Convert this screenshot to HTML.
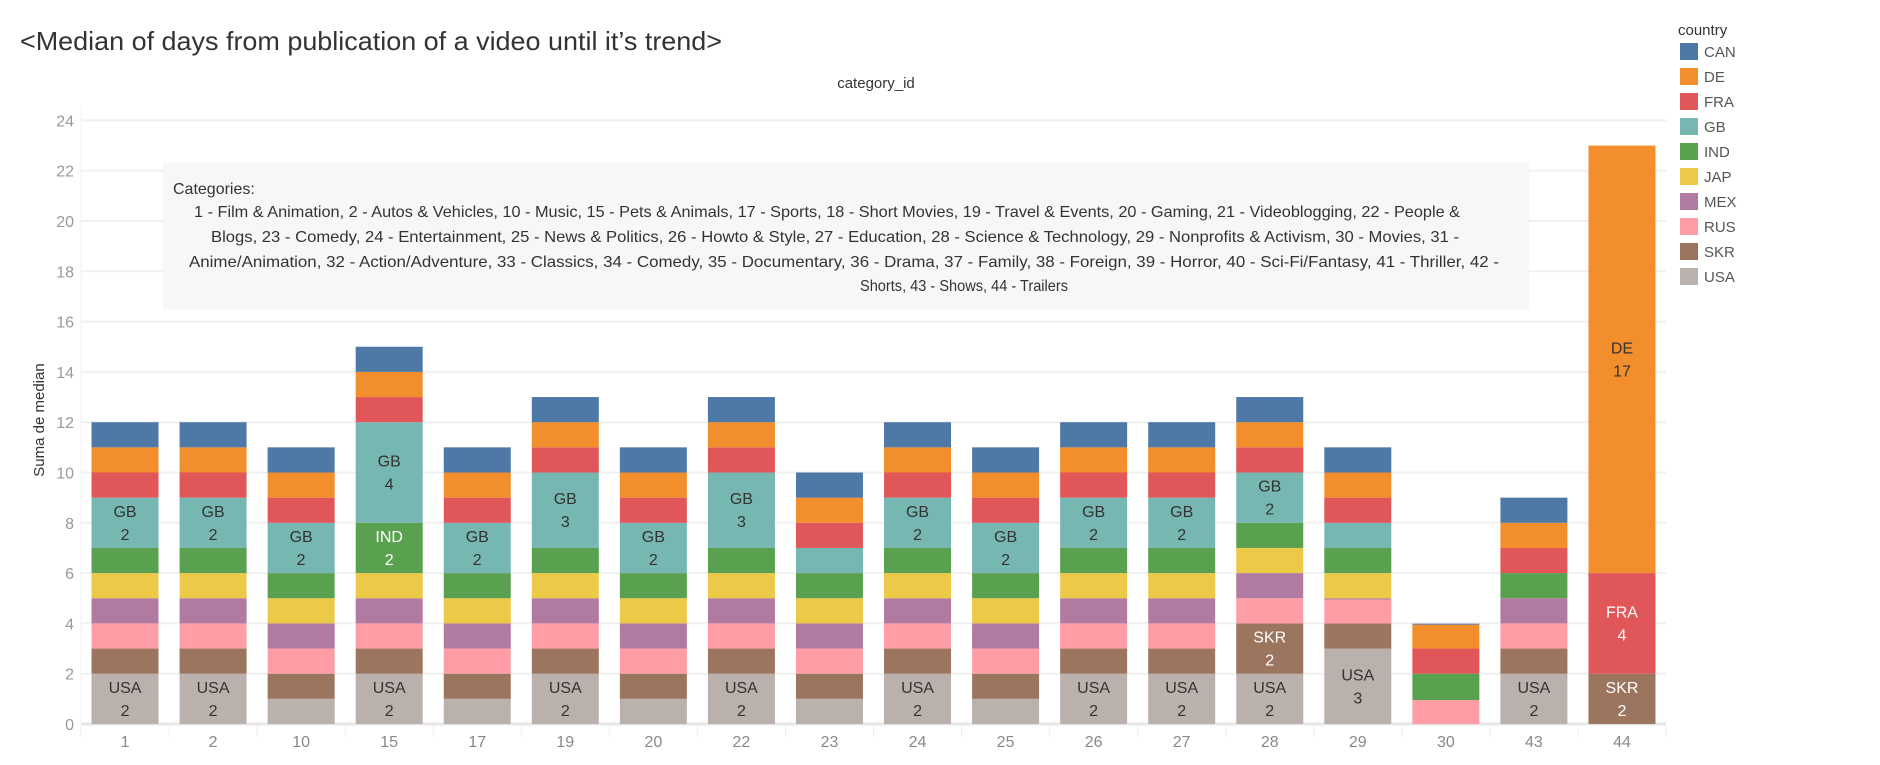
<!DOCTYPE html>
<html><head><meta charset="utf-8"><style>
html,body{margin:0;padding:0;background:#fff;}
svg{display:block;font-family:"Liberation Sans",sans-serif;}
</style></head><body>
<svg id="chart" width="1880" height="765" viewBox="0 0 1880 765">
<text x="20" y="50" font-size="26" fill="#333" textLength="702" lengthAdjust="spacingAndGlyphs">&lt;Median of days from publication of a video until it’s trend&gt;</text>
<text x="876" y="88" font-size="15" fill="#333" text-anchor="middle">category_id</text>
<g id="grid"></g>
<g id="bars"></g>
<g id="xaxis"></g>
<g id="yaxis"></g>
<text transform="translate(44,420) rotate(-90)" font-size="15" fill="#333" text-anchor="middle">Suma de median</text>
<g>
<rect x="163" y="163" width="1366" height="146" fill="#f7f7f7"/>
<text x="173" y="194" font-size="16" fill="#333">Categories:</text>
<text x="827" y="217" font-size="16" fill="#333" text-anchor="middle" textLength="1266" lengthAdjust="spacingAndGlyphs">1 -  Film &amp; Animation, 2 - Autos &amp; Vehicles, 10 - Music, 15 - Pets &amp; Animals, 17 - Sports, 18 - Short Movies, 19 - Travel &amp; Events, 20 - Gaming, 21 - Videoblogging, 22 - People &amp;</text>
<text x="835" y="242" font-size="16" fill="#333" text-anchor="middle" textLength="1248" lengthAdjust="spacingAndGlyphs">Blogs, 23 - Comedy, 24 - Entertainment, 25 - News &amp; Politics, 26 - Howto &amp; Style, 27 - Education, 28 - Science &amp; Technology, 29 - Nonprofits &amp; Activism, 30 - Movies, 31 -</text>
<text x="844" y="267" font-size="16" fill="#333" text-anchor="middle" textLength="1310" lengthAdjust="spacingAndGlyphs">Anime/Animation, 32 - Action/Adventure, 33 - Classics, 34 - Comedy, 35 - Documentary, 36 - Drama, 37 - Family, 38 - Foreign, 39 - Horror, 40 - Sci-Fi/Fantasy, 41 - Thriller, 42 -</text>
<text x="964" y="291" font-size="16" fill="#333" text-anchor="middle" textLength="208" lengthAdjust="spacingAndGlyphs">Shorts, 43 - Shows, 44 - Trailers</text>
</g>
<g id="legend">
<text x="1678" y="35" font-size="15" fill="#333">country</text>
</g>
</svg>
<script>
const categories = ["1","2","10","15","17","19","20","22","23","24","25","26","27","28","29","30","43","44"];
const countries = ["USA","SKR","RUS","MEX","JAP","IND","GB","FRA","DE","CAN"];
const colors = ["#bab0ac","#9c755f","#ff9da7","#b07aa1","#edc948","#59a14f","#76b7b2","#e15759","#f28e2b","#4e79a7"];
const darkText = [false,true,false,false,false,true,false,true,false,true];
const USA = [2,2,1,2,1,2,1,2,1,2,1,2,2,2,3,0,2,0];
const SKR = [1,1,1,1,1,1,1,1,1,1,1,1,1,2,1,0,1,2];
const RUS = [1,1,1,1,1,1,1,1,1,1,1,1,1,1,0.95,0.95,1,0];
const MEX = [1,1,1,1,1,1,1,1,1,1,1,1,1,1,0.05,0,1,0];
const JAP = [1,1,1,1,1,1,1,1,1,1,1,1,1,1,1,0,0,0];
const IND = [1,1,1,2,1,1,1,1,1,1,1,1,1,1,1,1.05,1,0];
const GB  = [2,2,2,4,2,3,2,3,1,2,2,2,2,2,1,0,0,0];
const FRA = [1,1,1,1,1,1,1,1,1,1,1,1,1,1,1,1,1,4];
const DE  = [1,1,1,1,1,1,1,1,1,1,1,1,1,1,1,0.95,1,17];
const CAN = [1,1,1,1,1,1,1,1,1,1,1,1,1,1,1,0.04,1,0];
const series = [USA,SKR,RUS,MEX,JAP,IND,GB,FRA,DE,CAN];
const yTicks = [0,2,4,6,8,10,12,14,16,18,20,22,24];
const legendOrder = ["CAN","DE","FRA","GB","IND","JAP","MEX","RUS","SKR","USA"];

const NS="http://www.w3.org/2000/svg";
const plotL=81, plotR=1666, y0=724, unit=25.15;
const band=(plotR-plotL)/categories.length, barW=67;
const yS=v=>y0-v*unit;
const xS=i=>plotL+i*band;
function mk(tag,attrs,parent){const e=document.createElementNS(NS,tag);for(const k in attrs)e.setAttribute(k,attrs[k]);parent.appendChild(e);return e;}

const grid=document.getElementById('grid');
yTicks.forEach(t=>{
  const l=mk('line',{x1:plotL,x2:plotR,y1:yS(t),y2:yS(t),stroke:t===0?'#e6e6e6':'#f0f0f0','stroke-width':t===0?3:2},grid);
  
  
});
const yax=document.getElementById('yaxis');
const yl=mk('line',{x1:plotL,x2:plotL,y1:105,y2:y0,stroke:'#f0f0f0','stroke-width':1},yax);


yTicks.forEach(t=>{
  const tx=mk('text',{x:74,y:yS(t)+6,'font-size':16,fill:'#999','text-anchor':'end'},yax);
  tx.textContent=t;
  
  
});

const bars=document.getElementById('bars');
const xax=document.getElementById('xaxis');
categories.forEach((c,i)=>{
  const bx=xS(i)+(band-barW)/2;
  let acc=0;
  series.forEach((s,k)=>{
    const v=s[i]; if(!v) return;
    const top=yS(acc+v), bot=yS(acc);
    const r=mk('rect',{x:bx,y:top,width:barW,height:bot-top,fill:colors[k]},bars);
    
    
    if(v>=2){
      const cy=(top+bot)/2, fill=darkText[k]?'#fff':'#333';
      const t1=mk('text',{x:bx+barW/2,y:cy-6,'font-size':16,fill:fill,'text-anchor':'middle'},bars);
      t1.textContent=countries[k];
      
      
      const t2=mk('text',{x:bx+barW/2,y:cy+17,'font-size':16,fill:fill,'text-anchor':'middle'},bars);
      t2.textContent=v;
      
      
    }
    acc+=v;
  });
  const tk=mk('line',{x1:xS(i),x2:xS(i),y1:y0+2,y2:y0+13,stroke:'#eee','stroke-width':1},xax);
  
  
  const lab=mk('text',{x:xS(i)+band/2,y:747,'font-size':16,fill:'#888','text-anchor':'middle'},xax);
  lab.textContent=c;
  
  
});
const endTk=mk('line',{x1:plotR,x2:plotR,y1:y0+2,y2:y0+13,stroke:'#eee','stroke-width':1},xax);



const leg=document.getElementById('legend');
legendOrder.forEach((n,j)=>{
  const k=countries.indexOf(n);
  const y=43+j*25;
  const sw=mk('rect',{x:1680,y:y,width:18,height:17,fill:colors[k]},leg);
  
  
  const t=mk('text',{x:1704,y:y+14,'font-size':15,fill:'#555'},leg);
  t.textContent=n;
  
  
});
</script>
</body></html>
